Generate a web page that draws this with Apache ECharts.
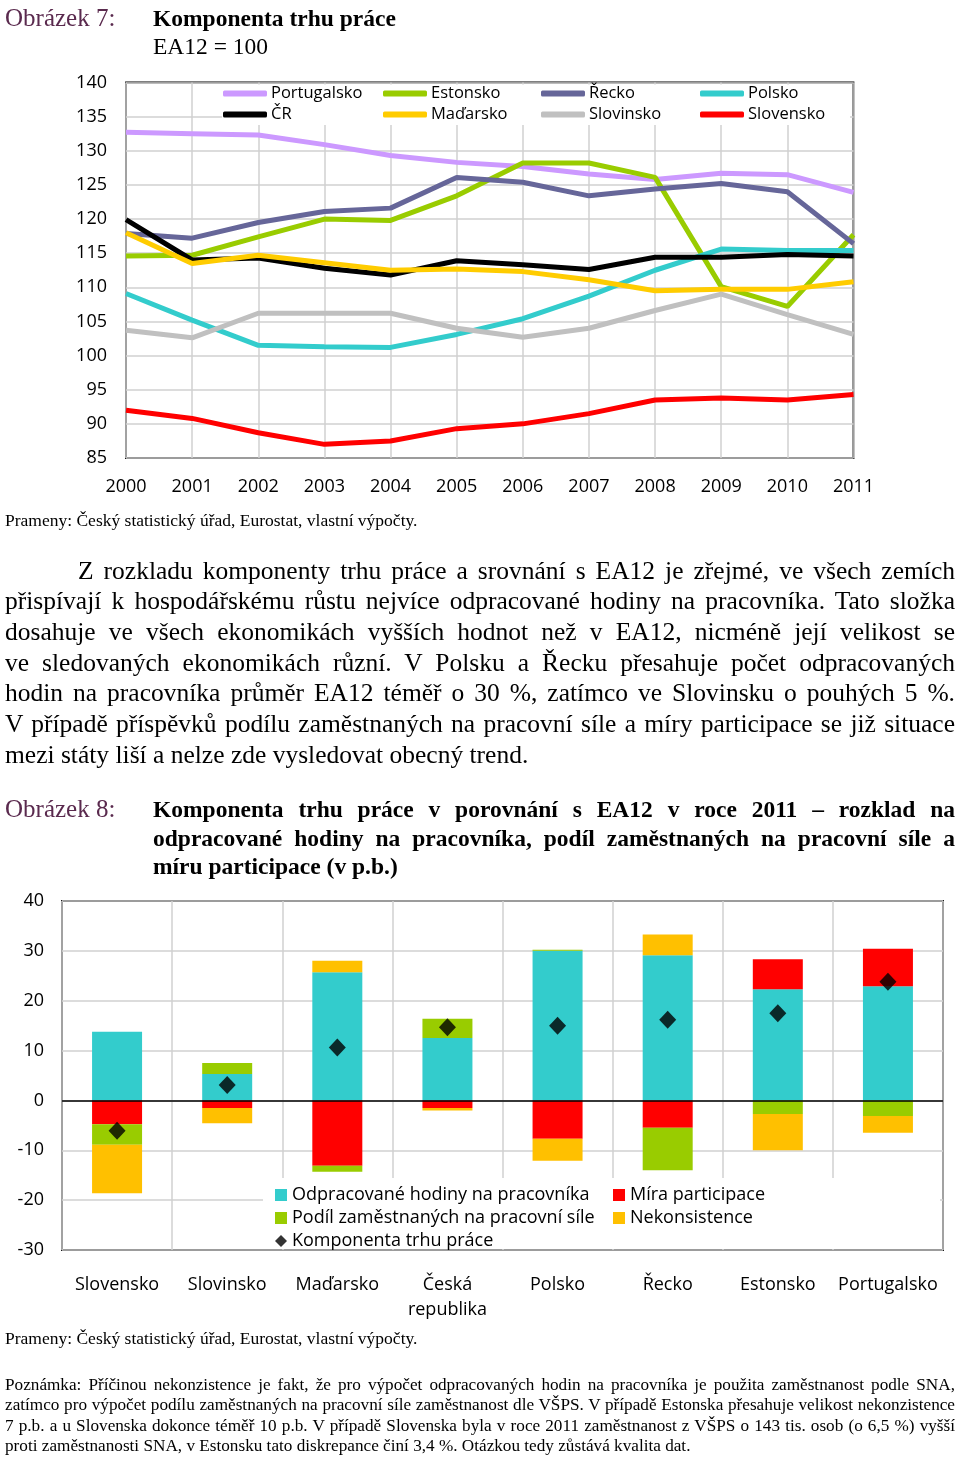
<!DOCTYPE html>
<html><head><meta charset="utf-8">
<script src="https://cdn.jsdelivr.net/npm/echarts@6/dist/echarts.min.js"></script>
<style>
body{margin:0;background:#fff;}
#page{position:relative;width:960px;height:1460px;overflow:hidden;}
#chart{position:absolute;left:0;top:0;width:960px;height:1460px;}
.t{position:absolute;font-family:"Liberation Serif",serif;color:#000;white-space:nowrap;}
.fig{color:#5A2A4E;}
.j{text-align:justify;text-align-last:justify;}
.p{font-size:25.5px;line-height:30.67px;}
.n{font-size:17.2px;line-height:20.3px;}
</style></head><body>
<div id="page">
<div id="chart"></div>

<div class="t fig" style="left:5px;top:4px;font-size:25px;line-height:28px;">Obrázek 7:</div>
<div class="t" style="left:153px;top:4px;font-size:23.5px;line-height:28px;font-weight:bold;">Komponenta trhu práce</div>
<div class="t" style="left:153px;top:32px;font-size:23.5px;line-height:28px;">EA12 = 100</div>

<div class="t" style="left:5px;top:510px;font-size:17.5px;line-height:20px;">Prameny: Český statistický úřad, Eurostat, vlastní výpočty.</div>

<div class="t p" style="left:5px;top:555.7px;width:950px;">
<div class="j" style="padding-left:73px;">Z rozkladu komponenty trhu práce a srovnání s EA12 je zřejmé, ve všech zemích</div>
<div class="j">přispívají k hospodářskému růstu nejvíce odpracované hodiny na pracovníka. Tato složka</div>
<div class="j">dosahuje ve všech ekonomikách vyšších hodnot než v EA12, nicméně její velikost se</div>
<div class="j">ve sledovaných ekonomikách různí. V Polsku a Řecku přesahuje počet odpracovaných</div>
<div class="j">hodin na pracovníka průměr EA12 téměř o 30 %, zatímco ve Slovinsku o pouhých 5 %.</div>
<div class="j">V případě příspěvků podílu zaměstnaných na pracovní síle a míry participace se již situace</div>
<div>mezi státy liší a nelze zde vysledovat obecný trend.</div>
</div>

<div class="t fig" style="left:5px;top:795px;font-size:25px;line-height:28.5px;">Obrázek 8:</div>
<div class="t" style="left:153px;top:795px;width:802px;font-size:23.5px;line-height:28.5px;font-weight:bold;">
<div class="j">Komponenta trhu práce v porovnání s EA12 v roce 2011 – rozklad na</div>
<div class="j">odpracované hodiny na pracovníka, podíl zaměstnaných na pracovní síle a</div>
<div>míru participace (v p.b.)</div>
</div>

<div class="t" style="left:5px;top:1328px;font-size:17.5px;line-height:20px;">Prameny: Český statistický úřad, Eurostat, vlastní výpočty.</div>

<div class="t n" style="left:5px;top:1375px;width:950px;">
<div class="j">Poznámka: Příčinou nekonzistence je fakt, že pro výpočet odpracovaných hodin na pracovníka je použita zaměstnanost podle SNA,</div>
<div class="j">zatímco pro výpočet podílu zaměstnaných na pracovní síle zaměstnanost dle VŠPS. V případě Estonska přesahuje velikost nekonzistence</div>
<div class="j">7 p.b. a u Slovenska dokonce téměř 10 p.b. V případě Slovenska byla v roce 2011 zaměstnanost z VŠPS o 143 tis. osob (o 6,5 %) vyšší</div>
<div>proti zaměstnanosti SNA, v Estonsku tato diskrepance činí 3,4 %. Otázkou tedy zůstává kvalita dat.</div>
</div>
</div>

<script>
// ---- Chart 1 data (Obrázek 7) ----
const years = ['2000','2001','2002','2003','2004','2005','2006','2007','2008','2009','2010','2011'];
const yTicks1 = {min: 85, max: 140, interval: 5};
const portugalsko = [132.7,132.5,132.3,130.9,129.3,128.3,127.7,126.6,125.8,126.7,126.5,123.9];
const estonsko    = [114.6,114.7,117.4,120.0,119.8,123.4,128.2,128.2,126.1,110.1,107.2,117.7];
const recko       = [117.9,117.2,119.5,121.1,121.6,126.1,125.4,123.4,124.4,125.2,124.0,116.4];
const polsko      = [109.1,105.2,101.5,101.3,101.2,103.1,105.4,108.7,112.5,115.6,115.4,115.4];
const cr          = [119.9,114.0,114.3,112.8,111.8,113.9,113.3,112.6,114.4,114.4,114.8,114.6];
const madarsko    = [118.0,113.5,114.7,113.6,112.5,112.7,112.3,111.1,109.5,109.7,109.7,110.8];
const slovinsko   = [103.7,102.6,106.2,106.2,106.2,104.0,102.7,104.0,106.6,109.0,106.0,103.1];
const slovensko   = [92.0,90.8,88.7,87.0,87.5,89.3,90.0,91.5,93.5,93.8,93.5,94.3];

// ---- Chart 2 data (Obrázek 8) ----
const countries = ['Slovensko','Slovinsko','Maďarsko','Česká\nrepublika','Polsko','Řecko','Estonsko','Portugalsko'];
const yTicks2 = {min: -30, max: 40, interval: 10};
const hodiny        = [13.8, 5.3, 25.7, 12.5, 30.0, 29.1, 22.3, 22.9];
const participace   = [-4.8, -1.5, -13.1, -1.5, -7.7, -5.5, 6.0, 7.5];
const podil         = [-4.1, 2.2, -1.2, 3.9, 0.2, -8.5, -2.7, -3.1];
const nekonsistence = [-9.7, -3.1, 2.3, -0.5, -4.4, 4.2, -7.3, -3.4];
const komponenta    = [-6.1, 3.1, 10.6, 14.7, 15.0, 16.2, 17.5, 23.8];

const FONT = 'Open Sans';
const GRIDC = '#D0D0D0';

const lineDefs = [
  ['Portugalsko', portugalsko, '#CC99FF'],
  ['Estonsko', estonsko, '#99CC00'],
  ['Řecko', recko, '#666699'],
  ['Polsko', polsko, '#33CCCC'],
  ['ČR', cr, '#000000'],
  ['Maďarsko', madarsko, '#FFCC00'],
  ['Slovinsko', slovinsko, '#C0C0C0'],
  ['Slovensko', slovensko, '#FF0000']
];

const series = lineDefs.map(([name, data, color]) => ({
  name, type: 'line', xAxisIndex: 0, yAxisIndex: 0, data,
  symbol: 'none', lineStyle: {color, width: 5}, itemStyle: {color}, z: 2
}));

const barDefs = [
  ['Odpracované hodiny na pracovníka', hodiny, '#33CCCC'],
  ['Míra participace', participace, '#FF0000'],
  ['Podíl zaměstnaných na pracovní síle', podil, '#99CC00'],
  ['Nekonsistence', nekonsistence, '#FFC000']
];
barDefs.forEach(([name, data, color], i) => {
  const s = {
    name, type: 'bar', xAxisIndex: 1, yAxisIndex: 1, data, stack: 'k',
    barWidth: 50, itemStyle: {color}, z: 2
  };
  if (i === barDefs.length - 1) {
    s.markLine = {silent: true, symbol: 'none', label: {show: false},
      lineStyle: {color: '#000', width: 1.5, type: 'solid'}, data: [{yAxis: 0}], z: 5};
  }
  series.push(s);
});
series.push({
  name: 'Komponenta trhu práce', type: 'scatter', xAxisIndex: 1, yAxisIndex: 1,
  data: komponenta, symbol: 'diamond', symbolSize: [17, 18], itemStyle: {color: '#000'}, z: 6
});

function lineLegend(left, names) {
  return {orient: 'vertical', left, top: 85, padding: 0, itemGap: 4,
    itemWidth: 44, itemHeight: 6, icon: 'roundRect', data: names, selectedMode: false,
    textStyle: {fontFamily: FONT, fontSize: 16.5, lineHeight: 17, color: '#000', padding: [0,0,0,-1]}};
}
function barLegend(left, items) {
  return {orient: 'vertical', left, top: 1185.5, padding: 0, itemGap: 4,
    itemWidth: 12, itemHeight: 12, data: items, selectedMode: false,
    textStyle: {fontFamily: FONT, fontSize: 18, lineHeight: 19, color: '#000'}};
}

const option = {
  animation: false,
  textStyle: {fontFamily: FONT},
  grid: [
    {left: 126, top: 82.5, width: 727.5, height: 375.5, show: true, borderColor: '#000', borderWidth: 1.8},
    {left: 62, top: 901, width: 881, height: 349, show: true, borderColor: '#000', borderWidth: 1.8}
  ],
  xAxis: [
    {gridIndex: 0, type: 'category', data: years, boundaryGap: false,
      axisLine: {show: false}, axisTick: {show: false},
      axisLabel: {fontSize: 18, color: '#000', margin: 20, interval: 0},
      splitLine: {show: true, interval: 0, lineStyle: {color: GRIDC, width: 1.5}}},
    {gridIndex: 1, type: 'category', data: countries, boundaryGap: true,
      axisLine: {show: false, onZero: false}, axisTick: {show: false},
      axisLabel: {fontSize: 18, color: '#000', margin: 22, lineHeight: 25, interval: 0},
      splitLine: {show: true, interval: 0, lineStyle: {color: GRIDC, width: 1.5}}}
  ],
  yAxis: [
    {gridIndex: 0, type: 'value', min: yTicks1.min, max: yTicks1.max, interval: yTicks1.interval,
      axisLine: {show: false}, axisTick: {show: false},
      axisLabel: {fontSize: 18, color: '#000', margin: 19},
      splitLine: {lineStyle: {color: GRIDC, width: 1.5}}},
    {gridIndex: 1, type: 'value', min: yTicks2.min, max: yTicks2.max, interval: yTicks2.interval,
      axisLine: {show: false}, axisTick: {show: false},
      axisLabel: {fontSize: 18, color: '#000', margin: 18},
      splitLine: {lineStyle: {color: GRIDC, width: 1.5}}}
  ],
  legend: [
    lineLegend(223, ['Portugalsko', 'ČR']),
    lineLegend(383, ['Estonsko', 'Maďarsko']),
    lineLegend(541, ['Řecko', 'Slovinsko']),
    lineLegend(700, ['Polsko', 'Slovensko']),
    barLegend(275, [
      {name: 'Odpracované hodiny na pracovníka', icon: 'rect'},
      {name: 'Podíl zaměstnaných na pracovní síle', icon: 'rect'},
      {name: 'Komponenta trhu práce', icon: 'diamond'}
    ]),
    barLegend(613, [
      {name: 'Míra participace', icon: 'rect'},
      {name: 'Nekonsistence', icon: 'rect'}
    ])
  ],
  graphic: [
    {type: 'rect', shape: {x: 222, y: 84.5, width: 628, height: 40.5}, style: {fill: '#fff'}, z: 1, silent: true},
    {type: 'rect', shape: {x: 263, y: 1178, width: 677, height: 71}, style: {fill: '#fff'}, z: 1, silent: true}
  ],
  series
};

const chart = echarts.init(document.getElementById('chart'));
chart.setOption(option);
</script>
</body></html>
